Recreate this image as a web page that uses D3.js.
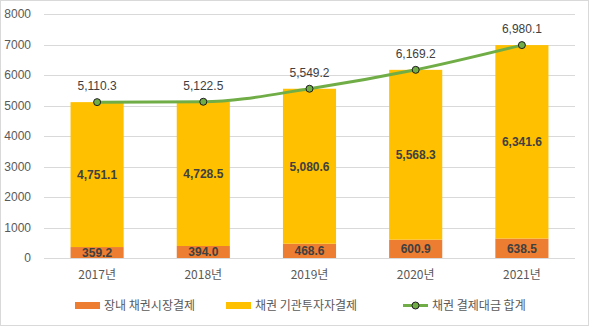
<!DOCTYPE html>
<html><head><meta charset="utf-8">
<script src="https://cdn.jsdelivr.net/npm/d3@7"></script>
<style>body{margin:0;background:#fff}svg{display:block}text{font-family:"Noto Sans CJK KR","Noto Sans",sans-serif}</style>
</head><body><svg id="c" width="589" height="326"></svg>
<script>
const categories = ["2017년","2018년","2019년","2020년","2021년"];
const onExchange = [359.2, 394.0, 468.6, 600.9, 638.5];
const institutional = [4751.1, 4728.5, 5080.6, 5568.3, 6341.6];
const total = [5110.3, 5122.5, 5549.2, 6169.2, 6980.1];
const yTicks = [0,1000,2000,3000,4000,5000,6000,7000,8000];
const seriesNames = ["장내 채권시장결제","채권 기관투자자결제","채권 결제대금 합계"];

const svg = d3.select("#c");
svg.append("rect").attr("x",0.5).attr("y",0.5).attr("width",588).attr("height",325).attr("fill","#fff").attr("stroke","#d9d9d9");
const x = d3.scaleBand().domain(categories).range([44,575]).paddingInner(0.5).paddingOuter(0.25);
const y = d3.scaleLinear().domain([0,8000]).range([258,14]);
const fmt = d3.format(",.1f");

// grid
svg.append("g").selectAll("line").data(yTicks).join("line")
  .attr("x1",44).attr("x2",575).attr("y1",d=>Math.round(y(d))+0.5).attr("y2",d=>Math.round(y(d))+0.5)
  .attr("stroke","#d9d9d9");
const yAxis = d3.axisLeft(y).tickValues(yTicks).tickFormat(d3.format("d")).tickSize(0).tickPadding(6);
const ya = svg.append("g").attr("transform","translate(37,0)").call(yAxis);
ya.select(".domain").remove();
ya.selectAll("text").attr("fill","#595959").style("font-size","12px").style("font-family","'Liberation Sans',Arial,sans-serif");

// bars
const g = svg.append("g");
g.selectAll(".o").data(categories).join("rect")
  .attr("x",d=>x(d)).attr("width",x.bandwidth())
  .attr("y",(d,i)=>y(onExchange[i])).attr("height",(d,i)=>y(0)-y(onExchange[i]))
  .attr("fill","#ED7D31");
g.selectAll(".y").data(categories).join("rect")
  .attr("x",d=>x(d)).attr("width",x.bandwidth())
  .attr("y",(d,i)=>y(onExchange[i]+institutional[i])).attr("height",(d,i)=>y(onExchange[i])-y(onExchange[i]+institutional[i]))
  .attr("fill","#FFC000");
// bar labels
g.selectAll(".lo").data(categories).join("text")
  .attr("x",d=>x(d)+x.bandwidth()/2).attr("y",(d,i)=>y(onExchange[i]/2)+4.5)
  .attr("text-anchor","middle").attr("fill","#404040").style("font-size","12px").style("font-weight","bold")
  .style("font-family","'Liberation Sans',Arial,sans-serif")
  .text((d,i)=>fmt(onExchange[i]));
g.selectAll(".ly").data(categories).join("text")
  .attr("x",d=>x(d)+x.bandwidth()/2).attr("y",(d,i)=>y(onExchange[i]+institutional[i]/2)+4.5)
  .attr("text-anchor","middle").attr("fill","#404040").style("font-size","12px").style("font-weight","bold")
  .style("font-family","'Liberation Sans',Arial,sans-serif")
  .text((d,i)=>fmt(institutional[i]));

// line
const cx = d=>x(d)+x.bandwidth()/2;
const line = d3.line().x((d,i)=>cx(categories[i])).y(d=>y(d)).curve(d3.curveMonotoneX);
svg.append("path").datum(total).attr("d",line).attr("fill","none").attr("stroke","#70AD47").attr("stroke-width",3);
svg.append("g").selectAll("circle").data(total).join("circle")
  .attr("cx",(d,i)=>cx(categories[i])).attr("cy",d=>y(d)).attr("r",3.5)
  .attr("fill","#70AD47").attr("stroke","#1e1e1e").attr("stroke-width",1);
svg.append("g").selectAll("text").data(total).join("text")
  .attr("x",(d,i)=>cx(categories[i])).attr("y",d=>y(d)-12)
  .attr("text-anchor","middle").attr("fill","#404040").style("font-size","12px")
  .style("font-family","'Liberation Sans',Arial,sans-serif")
  .text(d=>fmt(d));

// x axis
const xa = svg.append("g").attr("transform","translate(0,264)").call(d3.axisBottom(x).tickSize(0).tickPadding(6));
xa.select(".domain").remove();
xa.selectAll("text").attr("fill","#595959").style("font-size","12px");

// legend
const leg = svg.append("g").attr("transform","translate(0,305)");
const lx = [75,226,403];
leg.append("rect").attr("x",lx[0]).attr("y",-3).attr("width",25).attr("height",7).attr("fill","#ED7D31");
leg.append("rect").attr("x",lx[1]).attr("y",-3).attr("width",25).attr("height",7).attr("fill","#FFC000");
leg.append("line").attr("x1",lx[2]).attr("x2",lx[2]+25).attr("y1",0.5).attr("y2",0.5).attr("stroke","#70AD47").attr("stroke-width",3);
leg.append("circle").attr("cx",lx[2]+12.5).attr("cy",0.5).attr("r",3.5).attr("fill","#70AD47").attr("stroke","#1e1e1e");
leg.selectAll("text").data(seriesNames).join("text")
  .attr("x",(d,i)=>lx[i]+29).attr("y",5).attr("fill","#595959").style("font-size","12px").text(d=>d);
</script></body></html>
